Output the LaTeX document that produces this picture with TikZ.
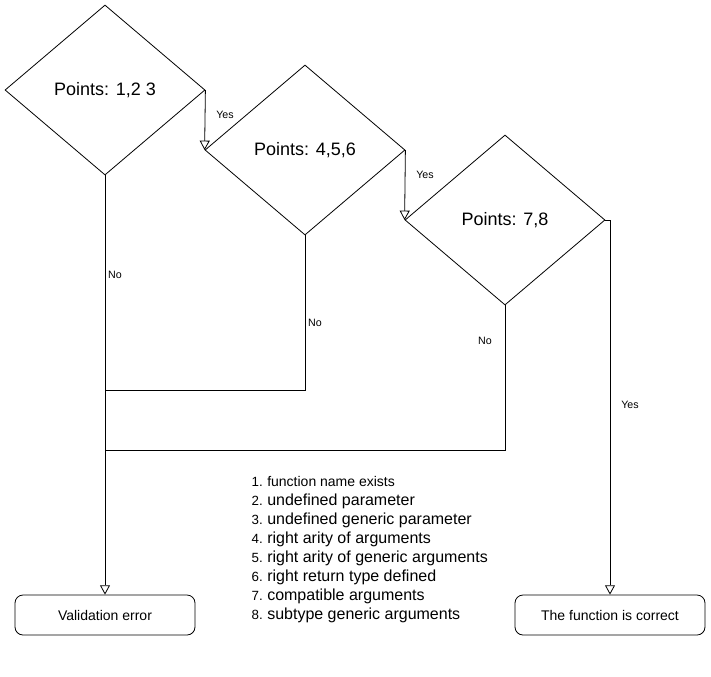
\documentclass[tikz,border=0pt]{standalone}
\usepackage{fontspec}
\setmainfont{Liberation Sans}
\usetikzlibrary{shapes.geometric,arrows.meta}
\begin{document}
\begin{tikzpicture}[x=0.75pt,y=-0.75pt,
  dec/.style={diamond,draw,line width=0.6pt,inner sep=0pt,minimum width=150pt,minimum height=127.5pt,font=\fontsize{13.5pt}{16pt}\selectfont},
  term/.style={draw,rounded corners=6pt,line width=0.6pt,minimum height=30pt,font=\fontsize{10.5pt}{12pt}\selectfont},
  lbl/.style={font=\fontsize{8pt}{9pt}\selectfont,inner sep=0pt},
  conn/.style={line width=0.6pt,-{Triangle[open,length=7pt,width=7.5pt]}},
  plain/.style={line width=0.6pt},
  num/.style={anchor=base east,inner sep=0pt,font=\fontsize{10pt}{12pt}\selectfont},
  item/.style={anchor=base west,inner sep=0pt,font=\fontsize{12pt}{14pt}\selectfont}]
\useasboundingbox (0,0) rectangle (711,676);
\node[dec] (d1) at (105,90) {Points: 1,2 3};
\node[dec] (d2) at (305,150) {Points: 4,5,6};
\node[dec] (d3) at (505,220) {Points: 7,8};
\node[term,minimum width=135pt] (err) at (105,615) {Validation error};
\node[term,minimum width=142.5pt] (ok) at (610,615) {The function is correct};
\coordinate (j1) at (105,390);
\coordinate (j2) at (105,450);
\draw[conn] (d1.east) -- (d2.west);
\draw[conn] (d2.east) -- (d3.west);
\draw[conn] (d3.east) -| (ok.north);
\draw[conn] (d1.south) -- (err.north);
\draw[plain] (d2.south) |- (j1);
\draw[plain] (d3.south) |- (j2);
\node[lbl] (y1) at (225,115) {Yes};
\node[lbl] (y2) at (425,175) {Yes};
\node[lbl] (y3) at (630,405) {Yes};
\node[lbl] (n1) at (115,275) {No};
\node[lbl] (n2) at (315,323) {No};
\node[lbl] (n3) at (485,341) {No};
\node[num] (l1n) at (263,486) {1.};
\node[item,font=\fontsize{10.5pt}{12pt}\selectfont] (l1) at (267,486) {function name exists};
\node[num] (l2n) at (263,505) {2.};
\node[item] (l2) at (267,505) {undefined parameter};
\node[num] (l3n) at (263,524) {3.};
\node[item] (l3) at (267,524) {undefined generic parameter};
\node[num] (l4n) at (263,543) {4.};
\node[item] (l4) at (267,543) {right arity of arguments};
\node[num] (l5n) at (263,562) {5.};
\node[item] (l5) at (267,562) {right arity of generic arguments};
\node[num] (l6n) at (263,581) {6.};
\node[item] (l6) at (267,581) {right return type defined};
\node[num] (l7n) at (263,600) {7.};
\node[item] (l7) at (267,600) {compatible arguments};
\node[num] (l8n) at (263,619) {8.};
\node[item] (l8) at (267,619) {subtype generic arguments};
\end{tikzpicture}
\end{document}
